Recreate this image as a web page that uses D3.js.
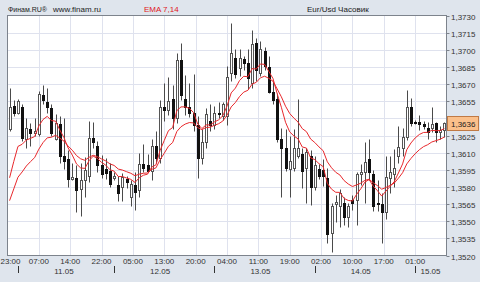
<!DOCTYPE html>
<html>
<head>
<meta charset="utf-8">
<script src="https://cdn.jsdelivr.net/npm/d3@7"></script>
<style>
  html, body { margin: 0; padding: 0; background: #dfe5ed; }
  svg { display: block; font-family: "Liberation Sans", Arial, sans-serif; }
</style>
</head>
<body>
<svg id="chart" width="480" height="282"></svg>
<script>
// hourly EUR/USD bars, 10.05 23:00 .. 15.05 03:00
const opens = [
  1.3631,1.3651,1.3645,1.3650,1.3622,1.3631,1.3627,1.3626,1.3660,1.3654,
  1.3649,1.3622,1.3635,1.3607,1.3604,1.3587,1.3588,1.3578,1.3586,1.3590,
  1.3623,1.3616,1.3599,1.3596,1.3594,1.3588,1.3582,1.3580,1.3587,1.3571,
  1.3582,1.3577,1.3600,1.3599,1.3594,1.3616,1.3605,1.3650,1.3647,1.3657,
  1.3640,1.3691,1.3657,1.3650,1.3645,1.3634,1.3605,1.3619,1.3638,1.3634,
  1.3645,1.3642,1.3642,1.3680,1.3693,1.3684,1.3692,1.3688,1.3671,1.3706,
  1.3680,1.3699,1.3685,1.3663,1.3657,1.3622,1.3614,1.3596,1.3597,1.3607,
  1.3609,1.3597,1.3607,1.3580,1.3596,1.3595,1.3588,1.3540,1.3565,1.3563,
  1.3566,1.3554,1.3569,1.3569,1.3591,1.3593,1.3604,1.3591,1.3566,1.3565,
  1.3558,1.3588,1.3591,1.3607,1.3614,1.3624,1.3650,1.3637,1.3637,1.3635,
  1.3632,1.3632,1.3636,1.3628,1.3630
];
const highs = [
  1.3667,1.3656,1.3657,1.3653,1.3640,1.3636,1.3640,1.3664,1.3669,1.3667,
  1.3653,1.3644,1.3642,1.3640,1.3612,1.3601,1.3599,1.3601,1.3606,1.3638,
  1.3637,1.3620,1.3608,1.3605,1.3601,1.3593,1.3590,1.3592,1.3590,1.3586,
  1.3593,1.3610,1.3618,1.3609,1.3622,1.3629,1.3656,1.3671,1.3676,1.3669,
  1.3697,1.3706,1.3678,1.3671,1.3679,1.3642,1.3631,1.3649,1.3653,1.3651,
  1.3654,1.3654,1.3686,1.3723,1.3701,1.3701,1.3695,1.3701,1.3717,1.3710,
  1.3708,1.3702,1.3695,1.3673,1.3662,1.3632,1.3631,1.3625,1.3631,1.3657,
  1.3614,1.3614,1.3612,1.3607,1.3600,1.3604,1.3597,1.3566,1.3573,1.3578,
  1.3571,1.3566,1.3573,1.3593,1.3600,1.3619,1.3622,1.3595,1.3586,1.3575,
  1.3607,1.3607,1.3613,1.3633,1.3632,1.3665,1.3658,1.3639,1.3643,1.3638,
  1.3637,1.3650,1.3637,1.3633,1.3637
];
const lows = [
  1.3629,1.3642,1.3644,1.3620,1.3614,1.3616,1.3625,1.3625,1.3653,1.3645,
  1.3625,1.3621,1.3601,1.3596,1.3580,1.3586,1.3558,1.3555,1.3571,1.3584,
  1.3614,1.3593,1.3588,1.3587,1.3580,1.3586,1.3568,1.3568,1.3579,1.3563,
  1.3560,1.3571,1.3593,1.3593,1.3586,1.3601,1.3601,1.3638,1.3643,1.3631,
  1.3636,1.3656,1.3643,1.3641,1.3629,1.3588,1.3600,1.3614,1.3629,1.3631,
  1.3640,1.3639,1.3634,1.3673,1.3675,1.3677,1.3682,1.3666,1.3667,1.3673,
  1.3677,1.3682,1.3662,1.3653,1.3619,1.3571,1.3594,1.3571,1.3594,1.3605,
  1.3579,1.3566,1.3564,1.3577,1.3587,1.3581,1.3531,1.3523,1.3549,1.3545,
  1.3547,1.3545,1.3560,1.3547,1.3582,1.3566,1.3586,1.3559,1.3559,1.3531,
  1.3552,1.3575,1.3580,1.3601,1.3607,1.3621,1.3633,1.3635,1.3630,1.3631,
  1.3622,1.3628,1.3619,1.3622,1.3624
];
const closes = [
  1.3650,1.3645,1.3655,1.3623,1.3632,1.3627,1.3629,1.3661,1.3656,1.3650,
  1.3627,1.3636,1.3607,1.3603,1.3587,1.3589,1.3577,1.3586,1.3595,1.3623,
  1.3619,1.3599,1.3591,1.3592,1.3583,1.3590,1.3575,1.3589,1.3584,1.3583,
  1.3576,1.3600,1.3597,1.3594,1.3616,1.3605,1.3650,1.3647,1.3655,1.3640,
  1.3691,1.3660,1.3650,1.3645,1.3634,1.3605,1.3619,1.3644,1.3634,1.3645,
  1.3644,1.3653,1.3676,1.3697,1.3679,1.3693,1.3688,1.3675,1.3705,1.3682,
  1.3701,1.3686,1.3663,1.3656,1.3622,1.3614,1.3597,1.3603,1.3614,1.3614,
  1.3594,1.3611,1.3580,1.3599,1.3590,1.3590,1.3539,1.3563,1.3567,1.3575,
  1.3554,1.3563,1.3566,1.3591,1.3593,1.3602,1.3593,1.3563,1.3565,1.3558,
  1.3589,1.3593,1.3597,1.3615,1.3624,1.3650,1.3636,1.3636,1.3635,1.3633,
  1.3628,1.3635,1.3628,1.3630,1.3636
];

// EMA values at the first visible bar (earlier history is off the chart)
const emaFastStart = 1.3588;
const emaSlowStart = 1.3568;

const yTicks = [1.3520,1.3535,1.3550,1.3565,1.3580,1.3595,1.3610,1.3625,
                1.3640,1.3655,1.3670,1.3685,1.3700,1.3715,1.3730];
const timeLabels = ['23:00','07:00','14:00','22:00','05:00','13:00','20:00',
                    '04:00','11:00','19:00','02:00','10:00','17:00','01:00'];
const barsPerGrid = 7.5;
const days = ['11.05','12.05','13.05','14.05','15.05'];
const dayStart = [2, 25, 49, 73, 97];

function ema(values, period, start) {
  const k = 2 / (period + 1);
  const out = [start];
  for (let i = 1; i < values.length; i++) {
    out.push(out[i - 1] + k * (values[i] - out[i - 1]));
  }
  return out;
}
const emaFast = ema(closes, 7, emaFastStart);
const emaSlow = ema(closes, 14, emaSlowStart);

const n = closes.length;
const plot = { left: 7.5, right: 446.5, top: 15.5, bottom: 255.5 };

const x = d3.scaleLinear().domain([0, n]).range([plot.left, plot.right]);
const y = d3.scaleLinear().domain([1.3520, 1.3730]).range([plot.bottom, plot.top]);
const fmt = v => d3.format('.4f')(v).replace('.', ',');
const px = v => Math.round(v) + 0.5;

const svg = d3.select('#chart');

svg.append('rect').attr('width', 480).attr('height', 282).attr('fill', '#dfe5ed');

// header
svg.append('text').attr('x', 8).attr('y', 12).attr('font-size', 7).attr('fill', '#222')
  .text('Финам.RU®');
svg.append('text').attr('x', 53).attr('y', 12).attr('font-size', 8).attr('fill', '#222')
  .text('www.finam.ru');
svg.append('text').attr('x', 144).attr('y', 12).attr('font-size', 8).attr('fill', '#e0161c')
  .text('EMA 7,14');
svg.append('text').attr('x', 307).attr('y', 12).attr('font-size', 8).attr('fill', '#222')
  .text('Eur/Usd Часовик');

// plot area
svg.append('rect')
  .attr('x', plot.left).attr('y', plot.top)
  .attr('width', plot.right - plot.left).attr('height', plot.bottom - plot.top)
  .attr('fill', '#fff');

const grid = svg.append('g').attr('stroke', '#dfe2ee').attr('stroke-width', 1);
yTicks.slice(1, -1).forEach(t => {
  grid.append('line')
    .attr('x1', plot.left).attr('x2', plot.right)
    .attr('y1', px(y(t))).attr('y2', px(y(t)));
});
timeLabels.forEach((_, k) => {
  if (k === 0) return;
  const gx = px(x(k * barsPerGrid));
  grid.append('line').attr('x1', gx).attr('x2', gx)
    .attr('y1', plot.top).attr('y2', plot.bottom);
});

// candles
const candles = svg.append('g');
closes.forEach((c, i) => {
  const o = opens[i];
  const cx = px(x(i + 0.5));
  const up = c >= o;
  candles.append('line')
    .attr('x1', cx).attr('x2', cx)
    .attr('y1', px(y(highs[i]))).attr('y2', px(y(lows[i])))
    .attr('stroke', '#4a4a4a');
  const top = px(y(Math.max(o, c)));
  const bot = px(y(Math.min(o, c)));
  candles.append('rect')
    .attr('x', cx - 1).attr('y', top)
    .attr('width', 2).attr('height', Math.max(bot - top, 1))
    .attr('fill', up ? '#fff' : '#111')
    .attr('stroke', up ? '#555' : '#111');
});

// EMA lines
const line = d3.line().x((d, i) => x(i + 0.5)).y(d => y(d));
[emaSlow, emaFast].forEach(series => {
  svg.append('path').datum(series)
    .attr('d', line)
    .attr('fill', 'none')
    .attr('stroke', '#e8282c')
    .attr('stroke-width', 1);
});

// frame
svg.append('rect')
  .attr('x', plot.left).attr('y', plot.top)
  .attr('width', plot.right - plot.left).attr('height', plot.bottom - plot.top)
  .attr('fill', 'none').attr('stroke', '#7d838c');

// right axis (labels hidden under the last-price box are skipped)
const last = closes[n - 1];
const ly = px(y(last));
yTicks.forEach(t => {
  const ty = px(y(t));
  svg.append('line').attr('x1', plot.right).attr('x2', plot.right + 3)
    .attr('y1', ty).attr('y2', ty).attr('stroke', '#7d838c');
  if (Math.abs(ty - ly) < 10) return;
  svg.append('text').attr('x', 451).attr('y', ty + 3)
    .attr('font-size', 8).attr('fill', '#333').text(fmt(t));
});

// last price box
svg.append('rect').attr('x', 447.5).attr('y', ly - 7).attr('width', 31).attr('height', 14)
  .attr('fill', '#fbc08b').attr('stroke', '#c07a45');
svg.append('text').attr('x', 451).attr('y', ly + 3)
  .attr('font-size', 8).attr('fill', '#222').text(fmt(last));

// time axis
timeLabels.forEach((lab, k) => {
  const first = k === 0;
  svg.append('text').attr('x', first ? 0.5 : x(k * barsPerGrid)).attr('y', 264)
    .attr('text-anchor', first ? 'start' : 'middle').attr('font-size', 8).attr('fill', '#333')
    .text(lab);
});
days.forEach((d, i) => {
  const mx = px(x(dayStart[i] + 0.5));
  svg.append('line').attr('x1', mx).attr('x2', mx).attr('y1', 266).attr('y2', 273)
    .attr('stroke', '#333');
  const mid = x(dayStart[i] + 11.5);
  if (mid < plot.right - 10) {
    svg.append('text').attr('x', mid).attr('y', 274)
      .attr('text-anchor', 'middle').attr('font-size', 8).attr('fill', '#333').text(d);
  } else {
    svg.append('text').attr('x', mx + 5).attr('y', 274)
      .attr('font-size', 8).attr('fill', '#333').text(d);
  }
});
</script>
</body>
</html>
